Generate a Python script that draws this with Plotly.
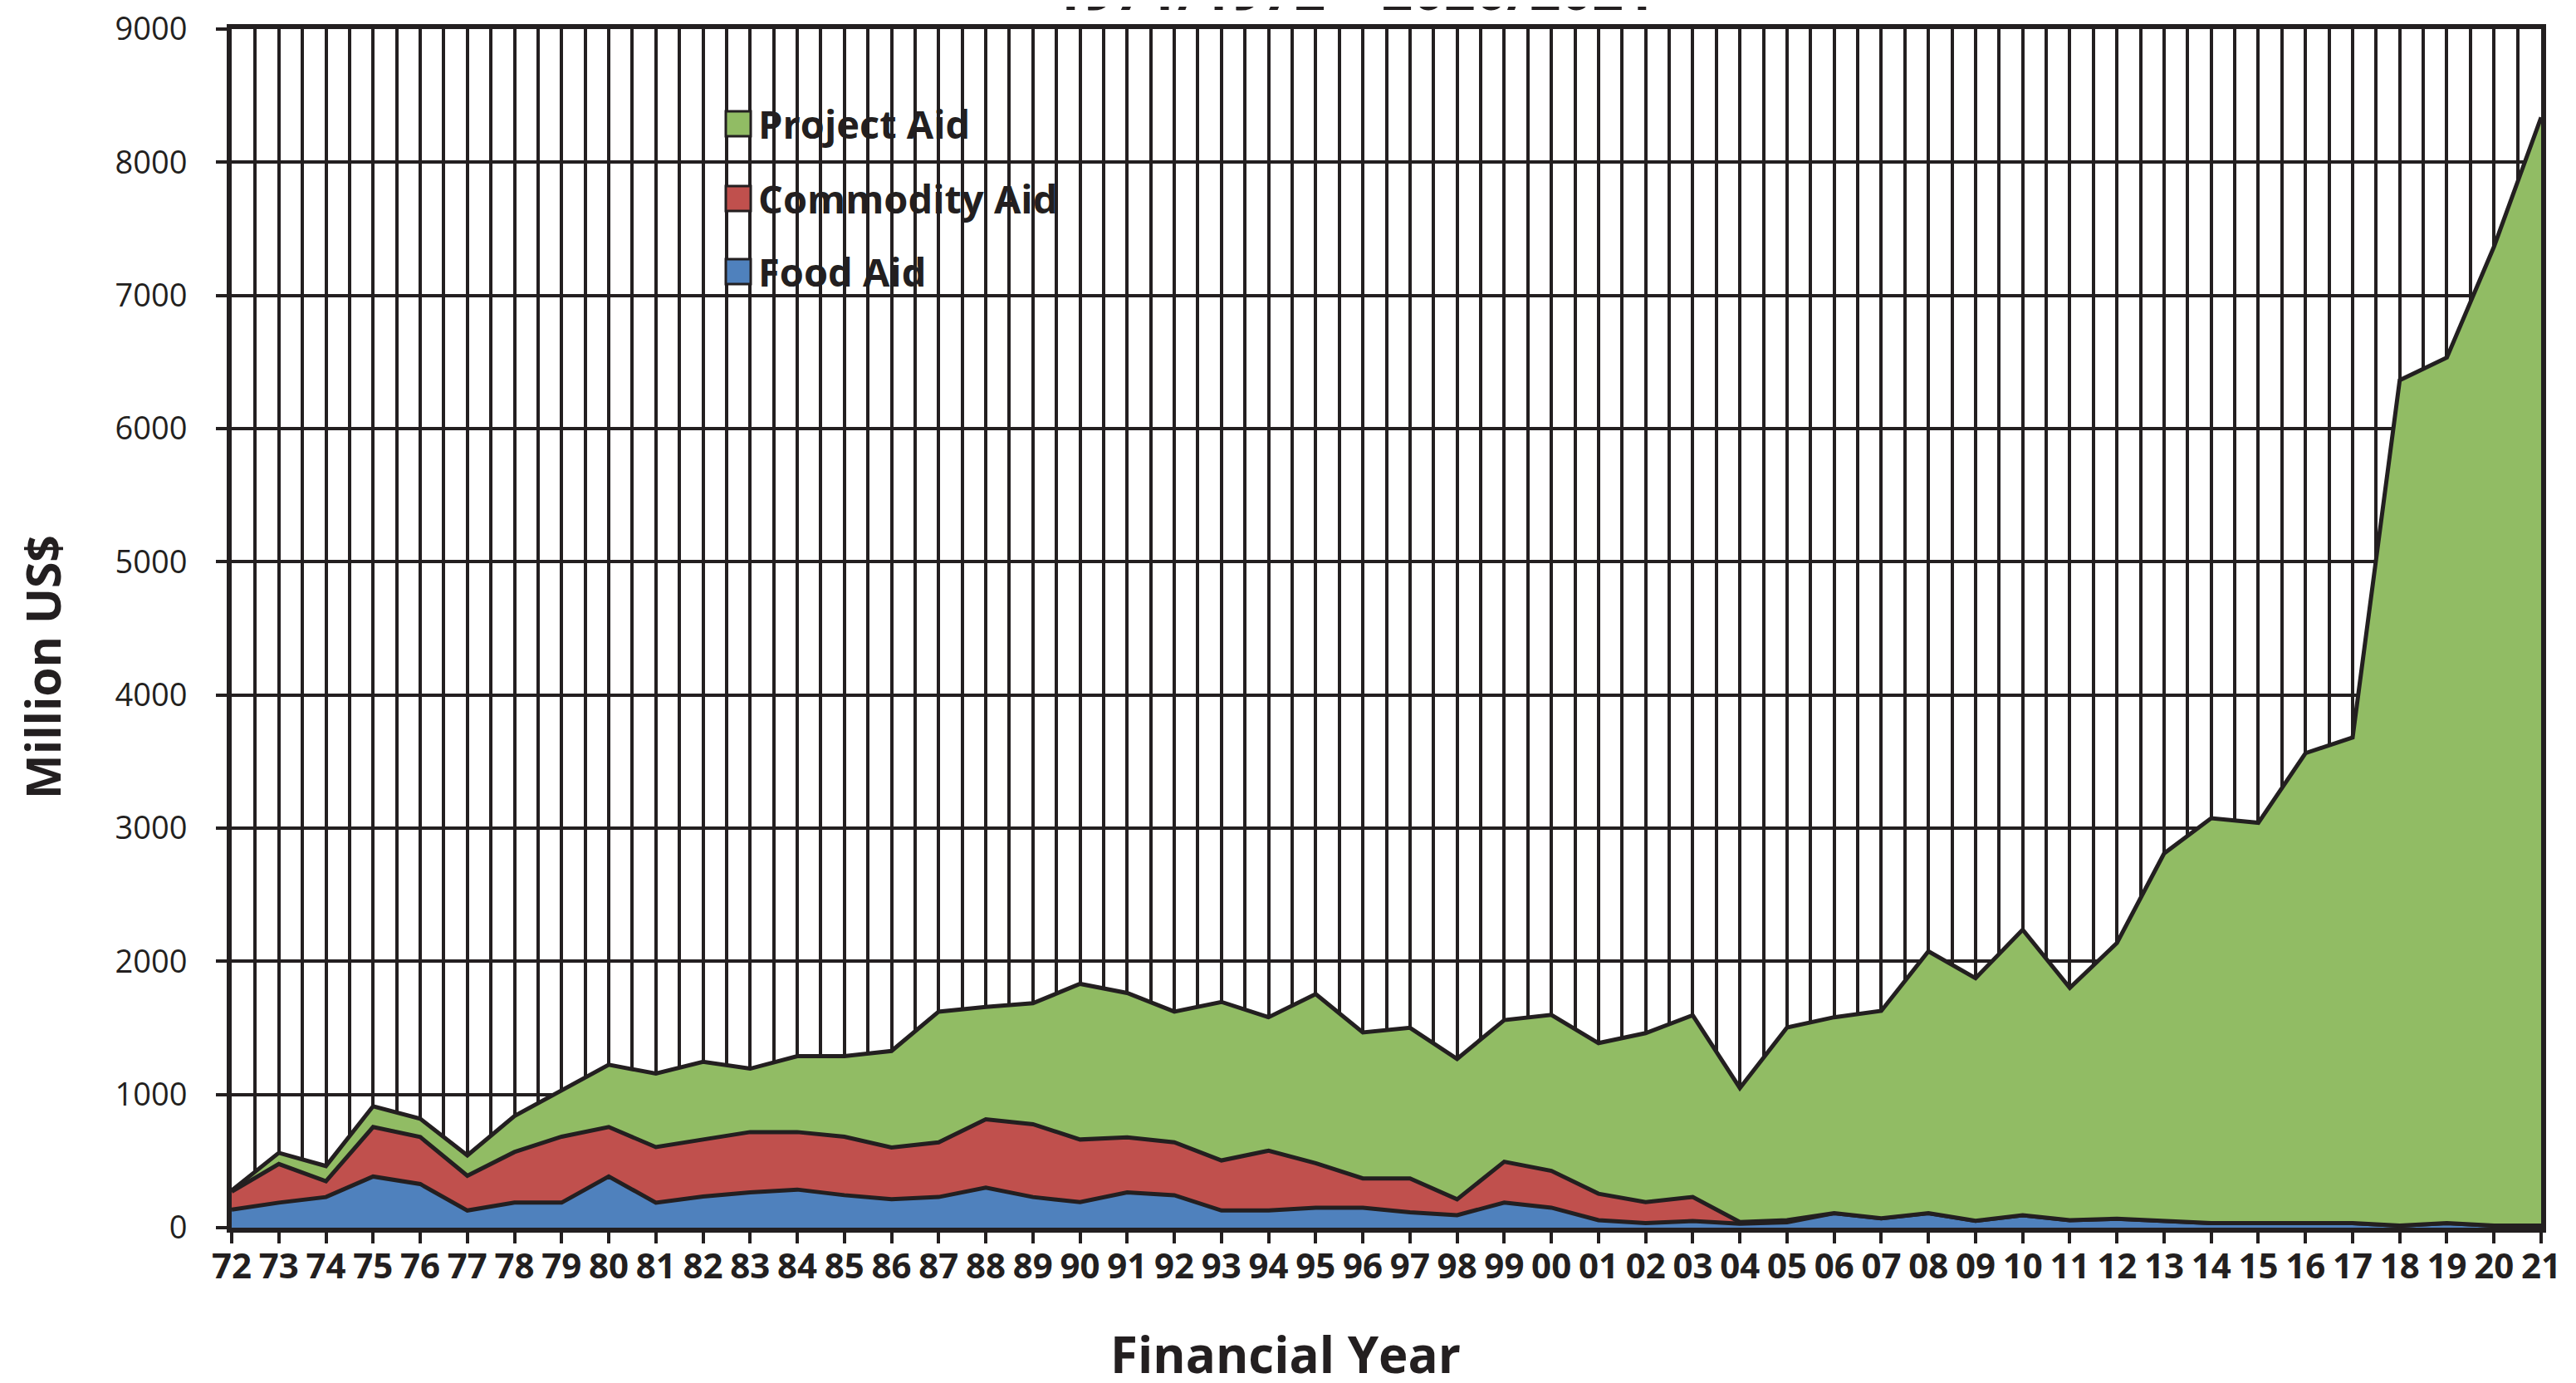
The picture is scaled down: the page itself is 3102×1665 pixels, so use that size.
import plotly.graph_objects as go

# Financial year labels (fiscal years 1971/72 ... 2020/21)
year_labels = ["72", "73", "74", "75", "76", "77", "78", "79", "80", "81",
               "82", "83", "84", "85", "86", "87", "88", "89", "90", "91",
               "92", "93", "94", "95", "96", "97", "98", "99", "00", "01",
               "02", "03", "04", "05", "06", "07", "08", "09", "10", "11",
               "12", "13", "14", "15", "16", "17", "18", "19", "20", "21"]

# Million US$
food_aid = [135, 188, 230, 384, 328, 129, 188, 188, 384, 188,
            234, 265, 286, 244, 213, 230, 301, 230, 192, 265,
            244, 129, 129, 150, 150, 115, 94, 188, 150, 56,
            35, 50, 30, 40, 109, 71, 109, 52, 94, 56,
            67, 50, 35, 35, 35, 35, 15, 35, 15, 15]

commodity_aid = [135, 290, 119, 372, 353, 261, 380, 495, 372, 417,
                 428, 453, 432, 439, 389, 411, 513, 547, 470, 413,
                 397, 376, 449, 334, 220, 255, 119, 307, 277, 199,
                 157, 180, 12, 16, 0, 0, 0, 0, 0, 0,
                 0, 0, 0, 0, 0, 0, 0, 0, 0, 0]

project_aid = [10, 84, 114, 156, 137, 153, 271, 347, 467, 552,
               584, 476, 570, 605, 725, 981, 844, 908, 1169, 1084,
               981, 1190, 1002, 1270, 1096, 1131, 1054, 1064, 1171, 1131,
               1269, 1365, 1006, 1447, 1471, 1557, 1966, 1821, 2144, 1744,
               2071, 2760, 3040, 3005, 3528, 3646, 6349, 6499, 7351, 8322]

y_ticks = [0, 1000, 2000, 3000, 4000, 5000, 6000, 7000, 8000, 9000]

series = [("Food Aid", food_aid, "#4F81BD"),
          ("Commodity Aid", commodity_aid, "#C0504D"),
          ("Project Aid", project_aid, "#91BC64")]

INK = "#231F20"
x = list(range(len(year_labels)))

fig = go.Figure()
for name, vals, col in series:
    fig.add_trace(go.Scatter(
        x=x, y=vals, name=name, mode="lines", stackgroup="aid",
        fillcolor=col, line=dict(color=INK, width=5),
        showlegend=False,
    ))

W, H = 3102, 1665
L, R, T, B = 271, 50, 27, 195
pw, ph = W - L - R, H - T - B

def px_x(px):
    return (px - L) / pw

def px_y(py):
    return (H - B - py) / ph

# Manual legend (square swatches + bold labels)
legend_items = [("Project Aid", "#91BC64", 141),
                ("Commodity Aid", "#C0504D", 231),
                ("Food Aid", "#4F81BD", 319)]
shapes = []
annotations = []
for name, col, cy in legend_items:
    shapes.append(dict(type="rect", xref="paper", yref="paper",
                       x0=px_x(866), x1=px_x(896),
                       y0=px_y(cy + 15), y1=px_y(cy - 15),
                       fillcolor=col, line=dict(color=INK, width=3),
                       layer="above"))
    annotations.append(dict(text=name, xref="paper", yref="paper",
                            x=px_x(903), y=px_y(cy), xanchor="left",
                            yanchor="middle", showarrow=False,
                            font=dict(family="Open Sans", size=47,
                                      color=INK, weight="bold")))

annotations.append(dict(text="Financial Year", xref="paper", yref="paper",
                        x=px_x(1540), y=px_y(1622), xanchor="center",
                        yanchor="middle", showarrow=False,
                        font=dict(family="Open Sans", size=60, color=INK,
                                  weight="bold")))
annotations.append(dict(text="Million US$", xref="paper", yref="paper",
                        x=px_x(43), y=px_y(795), xanchor="center",
                        yanchor="middle", textangle=-90, showarrow=False,
                        font=dict(family="Open Sans", size=57, color=INK,
                                  weight="bold")))
# Title line, cropped at the top edge as in the source image
annotations.append(dict(text="1971/1972 \u2013 2020/2021", xref="paper",
                        yref="paper", x=px_x(1622), y=px_y(25),
                        xanchor="center", yanchor="bottom", showarrow=False,
                        font=dict(family="Open Sans", size=66, color=INK,
                                  weight="bold")))

fig.update_layout(
    width=W, height=H,
    margin=dict(l=L, r=R, t=T, b=B, pad=0, autoexpand=False),
    paper_bgcolor="white", plot_bgcolor="white",
    shapes=shapes, annotations=annotations,
    showlegend=False,
)
fig.update_xaxes(
    automargin=False,
    range=[0, len(year_labels) - 1],
    tickmode="array", tickvals=x, ticktext=year_labels,
    ticks="outside", ticklen=13, tickwidth=4, tickcolor=INK,
    ticklabelstandoff=-8, ticklabeloverflow="allow",
    tickfont=dict(family="Open Sans", size=42, color=INK, weight="bold"),
    showgrid=True, gridcolor=INK, gridwidth=4,
    minor=dict(tickmode="linear", tick0=0, dtick=0.5, showgrid=True,
               gridcolor=INK, gridwidth=4, ticklen=0),
    showline=True, linecolor=INK, linewidth=6, mirror=True,
    zeroline=False,
)
fig.update_yaxes(
    automargin=False,
    range=[0, 9000], tickmode="array", tickvals=y_ticks,
    ticks="outside", ticklen=13, tickwidth=4, tickcolor=INK,
    ticklabelstandoff=27, ticklabeloverflow="allow",
    tickfont=dict(family="Open Sans", size=38, color=INK),
    showgrid=True, gridcolor=INK, gridwidth=4,
    showline=True, linecolor=INK, linewidth=6, mirror=True,
    zeroline=False,
)

fig.write_html("out.html")
